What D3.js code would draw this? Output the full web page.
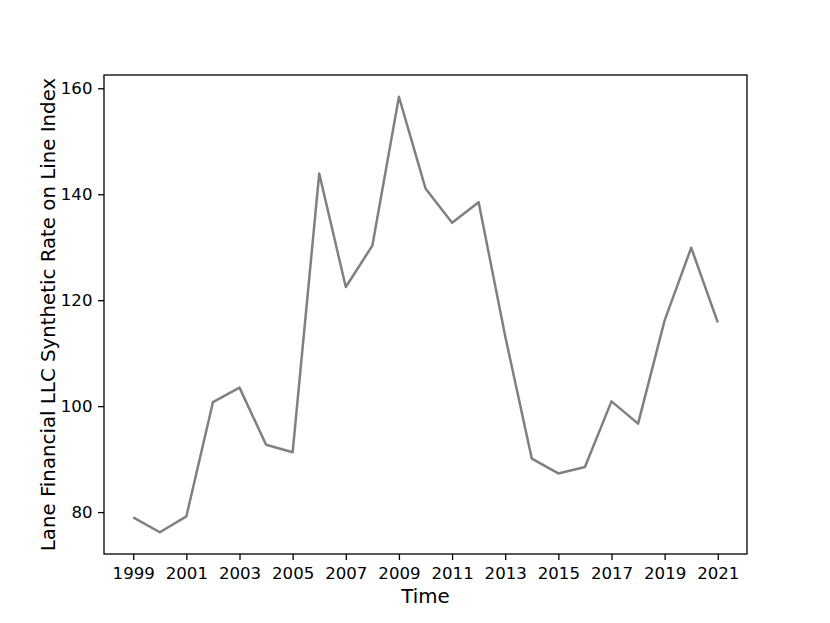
<!DOCTYPE html>
<html>
<head>
<meta charset="utf-8">
<script src="https://cdn.jsdelivr.net/npm/d3@7"></script>
<style>
  body { margin: 0; background: #fff; }
  text { font-family: "DejaVu Sans", sans-serif; fill: #000; }
</style>
</head>
<body>
<svg id="chart" width="830" height="623"></svg>
<script>
// Chart data
var years = [1999, 2000, 2001, 2002, 2003, 2004, 2005, 2006, 2007, 2008, 2009, 2010,
             2011, 2012, 2013, 2014, 2015, 2016, 2017, 2018, 2019, 2020, 2021];
var values = [79.0, 76.2, 79.2, 100.75, 103.5, 92.7, 91.3, 143.9, 122.5, 130.3, 158.4, 141.1,
              134.6, 138.5, 113.2, 90.1, 87.3, 88.5, 100.9, 96.7, 116.2, 129.9, 115.8];
var xTicks = [1999, 2001, 2003, 2005, 2007, 2009, 2011, 2013, 2015, 2017, 2019, 2021];
var yTicks = [80, 100, 120, 140, 160];

var svg = d3.select("#chart");
var margin = { left: 104, top: 75, right: 830 - 747, bottom: 623 - 554 };
var width = 830 - margin.left - margin.right;
var height = 623 - margin.top - margin.bottom;

// x padding like matplotlib (5% of data range each side)
var xPad = (2021 - 1999) * 0.05;
var x = d3.scaleLinear()
    .domain([1999 - xPad, 2021 + xPad])
    .range([0, width]);

var yMin = d3.min(values), yMax = d3.max(values);
var yPad = (yMax - yMin) * 0.05;
var y = d3.scaleLinear()
    .domain([yMin - yPad, yMax + yPad])
    .range([height, 0]);

var g = svg.append("g")
    .attr("transform", "translate(" + margin.left + "," + margin.top + ")");

// The line
var line = d3.line()
    .x(function(d, i) { return x(years[i]); })
    .y(function(d) { return y(d); });

g.append("path")
    .datum(values)
    .attr("fill", "none")
    .attr("stroke", "#808080")
    .attr("stroke-width", 2.5)
    .attr("stroke-linejoin", "round")
    .attr("d", line);

// Axes
var xAxis = g.append("g")
    .attr("transform", "translate(0," + height + ")")
    .call(d3.axisBottom(x).tickValues(xTicks).tickFormat(d3.format("d")).tickSize(6).tickPadding(7));

var yAxis = g.append("g")
    .call(d3.axisLeft(y).tickValues(yTicks).tickSize(6).tickPadding(5.5));

[xAxis, yAxis].forEach(function(a) {
  a.select(".domain").remove();
  a.selectAll("line").attr("stroke", "#000").attr("stroke-width", 1.3);
  a.selectAll("text").style("font-size", "16.6px").style("font-family", "DejaVu Sans");
});

// Frame
g.append("rect")
    .attr("width", width)
    .attr("height", height)
    .attr("fill", "none")
    .attr("stroke", "#000")
    .attr("stroke-width", 1.3);

// Axis labels
svg.append("text")
    .attr("x", margin.left + width / 2)
    .attr("y", 603)
    .attr("text-anchor", "middle")
    .style("font-size", "19.8px")
    .text("Time");

svg.append("text")
    .attr("transform", "translate(55," + (margin.top + height / 2) + ") rotate(-90)")
    .attr("text-anchor", "middle")
    .style("font-size", "19.8px")
    .text("Lane Financial LLC Synthetic Rate on Line Index");
</script>
</body>
</html>
